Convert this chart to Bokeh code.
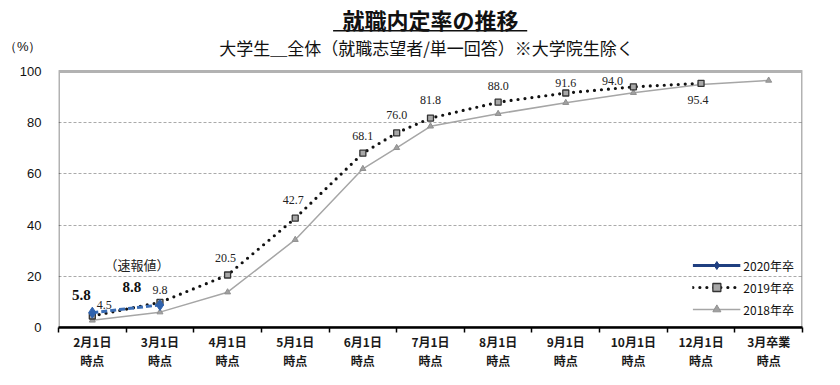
from bokeh.plotting import figure
from bokeh.models import (ColumnDataSource, Range1d, FixedTicker, Label, LabelSet,
                          Legend, LegendItem, BoxAnnotation)
from bokeh.embed import file_html
from bokeh.resources import INLINE

# ---------------- data ----------------
categories = ["2月1日\n時点", "3月1日\n時点", "4月1日\n時点", "5月1日\n時点", "6月1日\n時点",
              "7月1日\n時点", "8月1日\n時点", "9月1日\n時点", "10月1日\n時点", "12月1日\n時点",
              "3月卒業\n時点"]
# survey points (index on the category axis; 4.5 = mid-June survey)
x_2020 = [0, 1]
v_2020 = [5.8, 8.8]
x_2019 = [0, 1, 2, 3, 4, 4.5, 5, 6, 7, 8, 9]
v_2019 = [4.5, 9.8, 20.5, 42.7, 68.1, 76.0, 81.8, 88.0, 91.6, 94.0, 95.4]
x_2018 = [0, 1, 2, 3, 4, 4.5, 5, 6, 7, 8, 9, 10]
v_2018 = [2.8, 6.0, 13.8, 34.3, 62.0, 70.2, 78.6, 83.5, 87.8, 91.7, 94.9, 96.5]
y_ticks = [0, 20, 40, 60, 80, 100]
Y_MAX = 100           # top of the value scale
UNIT_LABEL = "（%）"

# label offsets in pixels (style)
dx_2019 = [12, 0, -2, -2, 0, 0, 0, 0, 0, -21, -3]
dy_2019 = [11, 12, 17, 18, 17, 18, 18, 16, 10, 6, -17]
dx_2020 = [-11, -28]
dy_2020 = [18, 18]

JP = "Noto Sans CJK JP"
NUM = "Arial"

W, H = 830, 385
TOP_PX, BOTTOM_PX = 71, 58          # pixel position of the value-100 line / bottom border
frame_h = H - BOTTOM_PX - TOP_PX
px_per_unit = frame_h / Y_MAX
y_top = Y_MAX + TOP_PX / px_per_unit          # headroom for the titles
y_unit_label = Y_MAX + 25 / px_per_unit       # row of "(%)" and the subtitle

p = figure(width=W, height=H, output_backend="svg", toolbar_location=None,
           x_range=Range1d(-0.5, 10.5), y_range=Range1d(0, y_top),
           min_border_left=54, min_border_right=28, min_border_top=0,
           min_border_bottom=BOTTOM_PX)
p.outline_line_color = None
p.background_fill_color = "white"
p.border_fill_color = "white"

# axes
xa = p.xaxis[0]
xa.ticker = FixedTicker(ticks=list(range(len(categories))),
                        minor_ticks=[i - 0.5 for i in range(len(categories) + 1)])
xa.major_label_overrides = {i: c for i, c in enumerate(categories)}
xa.major_tick_line_color = None
xa.major_tick_out = 0
xa.major_tick_in = 0
xa.minor_tick_line_color = "black"
xa.minor_tick_line_width = 1.5
xa.minor_tick_out = 5
xa.minor_tick_in = 0
xa.axis_line_width = 2.5
xa.axis_line_color = "black"
xa.major_label_text_font = JP
xa.major_label_text_font_size = "12px"
xa.major_label_text_font_style = "bold"
xa.major_label_text_color = "#1a1a1a"
xa.major_label_text_line_height = 1.15
xa.major_label_standoff = 0

ya = p.yaxis[0]
ya.ticker = FixedTicker(ticks=y_ticks + [y_unit_label])
ya.major_label_overrides = {y_unit_label: UNIT_LABEL}
ya.major_tick_line_color = None
ya.minor_tick_line_color = None
ya.axis_line_color = None
ya.major_label_text_font = NUM
ya.major_label_text_font_size = "13px"
ya.major_label_text_color = "#111111"
ya.major_label_standoff = 11

p.xgrid.grid_line_color = None
p.ygrid.ticker = FixedTicker(ticks=y_ticks[1:-1])
p.ygrid.grid_line_color = "#aaaaaa"
p.ygrid.grid_line_dash = "3 2"
p.ygrid.grid_line_width = 1

# plot box (0..100)
p.add_layout(BoxAnnotation(left=-0.5, right=10.5, bottom=0, top=Y_MAX, fill_alpha=0,
                           line_color="black", line_width=3, level="underlay"))

# series
s18 = ColumnDataSource(dict(x=x_2018, y=v_2018))
s19 = ColumnDataSource(dict(x=x_2019, y=v_2019, t=[f"{v:.1f}" for v in v_2019], dx=dx_2019, dy=dy_2019))
s20 = ColumnDataSource(dict(x=x_2020, y=v_2020, t=[f"{v:.1f}" for v in v_2020], dx=dx_2020, dy=dy_2020))

l18 = p.line("x", "y", source=s18, line_color="#a6a6a6", line_width=1.5)
m18 = p.scatter("x", "y", source=s18, marker="triangle", size=6, fill_color="#a0a0a0",
                line_color="#909090")
l19 = p.line("x", "y", source=s19, line_color="#111111", line_width=3.2, line_dash="0 7",
             line_cap="round")
m19 = p.scatter("x", "y", source=s19, marker="square", size=6, fill_color="#a8a8a8",
                line_color="#333333", line_width=1.3)
l20 = p.line("x", "y", source=s20, line_color="#3a6db5", line_width=3, line_dash="6 3")
m20 = p.scatter("x", "y", source=s20, marker="diamond", size=11, fill_color="#2f62ad",
                line_color="#2f62ad")

# legend-only 2020 glyphs (solid navy); NaN data, so nothing is drawn in the plot
nan = float("nan")
leg_src = ColumnDataSource(dict(x=[nan], y=[nan]))
lg20 = p.line("x", "y", source=leg_src, line_color="#1f3f80", line_width=3)
mg20 = p.scatter("x", "y", source=leg_src, marker="diamond", size=9,
                 fill_color="#1f3f80", line_color="#1f3f80")

# value labels
p.add_layout(LabelSet(x="x", y="y", text="t", x_offset="dx", y_offset="dy", source=s19,
                      text_align="center", text_baseline="middle", text_font=NUM,
                      text_font_size="12px", text_color="#222222"))
p.add_layout(LabelSet(x="x", y="y", text="t", x_offset="dx", y_offset="dy", source=s20,
                      text_align="center", text_baseline="middle", text_font=NUM,
                      text_font_size="15px", text_font_style="bold", text_color="#111111"))
p.add_layout(Label(x=1, y=24.5, x_offset=-23, text="（速報値）", text_align="center",
                   text_baseline="middle", text_font=JP, text_font_size="13px",
                   text_color="#222222"))

legend = Legend(items=[LegendItem(label="2020年卒", renderers=[lg20, mg20]),
                       LegendItem(label="2019年卒", renderers=[l19, m19]),
                       LegendItem(label="2018年卒", renderers=[l18, m18])],
                location="bottom_right")
legend.background_fill_alpha = 0
legend.border_line_color = None
legend.glyph_width = 48
legend.glyph_height = 20
legend.spacing = 2
legend.label_standoff = 3
legend.padding = 2
legend.margin = 8
legend.label_text_font = JP
legend.label_text_font_size = "12px"
legend.label_text_color = "#111111"
p.add_layout(legend, "center")

# titles, anchored to the top of the value box with pixel offsets
p.add_layout(Label(x=5, y=Y_MAX, y_offset=53, text="就職内定率の推移",
                   text_align="center", text_baseline="middle", text_font=JP,
                   text_font_size="22px", text_font_style="bold", text_color="#111111"))
p.add_layout(BoxAnnotation(left=3.56, right=6.43, bottom=Y_MAX + 40 / px_per_unit,
                           top=Y_MAX + 41.5 / px_per_unit,
                           fill_color="#111111", fill_alpha=1, line_color=None))
p.add_layout(Label(x=5, y=Y_MAX, y_offset=24, x_offset=-4,
                   text="大学生＿全体（就職志望者/単一回答）※大学院生除く",
                   text_align="center", text_baseline="middle", text_font=JP,
                   text_font_size="17px", text_color="#111111"))

open("out.html", "w").write(file_html(p, INLINE))
